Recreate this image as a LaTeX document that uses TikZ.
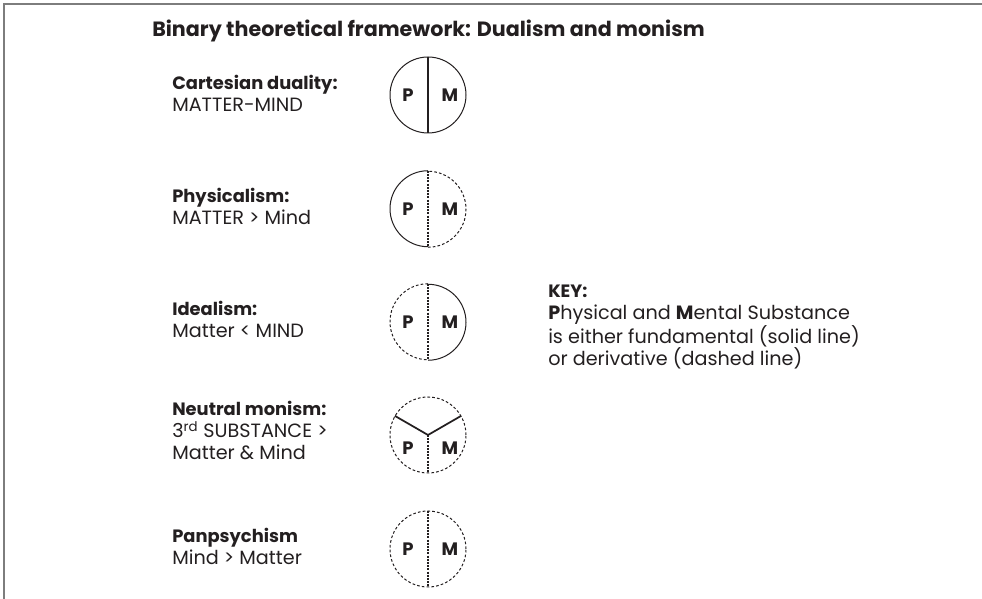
\documentclass[tikz,border=0pt]{standalone}
\usepackage{fontspec}
\setmainfont{Poppins}
\usepackage{tikz}
\usetikzlibrary{positioning, calc}
\definecolor{mydark}{RGB}{35,31,32}
\definecolor{myframe}{RGB}{125,125,125}
\newcommand{\hdr}[1]{{\fontsize{13.4}{16.5}\selectfont\bfseries #1}}
\tikzset{
  ring/.style={circle, draw=none, minimum size=57pt, inner sep=0pt},
  fund/.style={draw=mydark, line width=0.75pt},
  deriv/.style={draw=mydark, line width=0.75pt, dash pattern=on 2pt off 1.6pt},
  divsolid/.style={draw=mydark, line width=0.9pt},
  divdash/.style={draw=mydark, line width=1pt, dash pattern=on 1.5pt off 0.9pt},
  letter/.style={font=\fontsize{13.5}{15}\selectfont\bfseries, text=mydark, inner sep=0pt},
  label/.style={anchor=base west, align=left, inner sep=0pt, text=mydark,
    font=\fontsize{14.4}{16.5}\selectfont},
  title/.style={anchor=base west, inner sep=0pt, text=mydark,
    font=\fontsize{15.5}{17}\selectfont\bfseries}
}
\begin{document}
\begin{tikzpicture}[x=0.75pt, y=0.75pt]
  \useasboundingbox (0,0) rectangle (982,599);
  % frame
  \draw[myframe, line width=1.5pt] (4,0) -- (4,595) -- (982,595);
  \node[title] (head) at (152,562) {Binary theoretical framework: Dualism and monism};

  % labels (anchored at the last baseline)
  \node[label] (lcart) at (172,487) {\hdr{Cartesian duality:}\\MATTER-MIND};
  \node[label] (lphys) at (172,374) {\hdr{Physicalism:}\\MATTER > Mind};
  \node[label] (lideal) at (172,261) {\hdr{Idealism:}\\Matter < MIND};
  \node[label] (lneut) at (172,139) {\hdr{Neutral monism:}\\3\textsuperscript{rd} SUBSTANCE >\\Matter \& Mind};
  \node[label] (lpan) at (172,34) {\hdr{Panpsychism}\\Mind > Matter};

  % circles
  \foreach \nm/\y in {cart/504, phys/390, ideal/277, neut/164, pan/50}
    \node[ring] (\nm) at (428,\y) {};

  \draw[fund] (cart) circle[radius=28.5pt];
  \draw[divsolid] (cart.north) -- (cart.south);

  \draw[fund] (phys.north) arc[start angle=90, end angle=270, radius=28.5pt];
  \draw[deriv] (phys.south) arc[start angle=-90, end angle=90, radius=28.5pt];
  \draw[divdash] (phys.north) -- (phys.south);

  \draw[deriv] (ideal.north) arc[start angle=90, end angle=270, radius=28.5pt];
  \draw[fund] (ideal.south) arc[start angle=-90, end angle=90, radius=28.5pt];
  \draw[divdash] (ideal.north) -- (ideal.south);

  \draw[deriv] (neut) circle[radius=28.5pt];
  \draw[divsolid, line width=1.3pt] (neut.150) -- (neut.center) -- (neut.30);
  \draw[divdash] (neut.center) -- (neut.south);

  \draw[deriv] (pan) circle[radius=28.5pt];
  \draw[divdash] (pan.north) -- (pan.south);

  % letters
  \foreach \nm in {cart, phys, ideal, pan} {
    \node[letter] (\nm P) at ($(\nm)+(-20,0)$) {P};
    \node[letter] (\nm M) at ($(\nm)+(22,0)$) {M};
  }
  \node[letter] (neutP) at ($(neut)+(-20,-13)$) {P};
  \node[letter] (neutM) at ($(neut)+(22,-13)$) {M};

  % key
  \node[label] (key) at (548,233) {\hdr{KEY:}\\\textbf{P}hysical and \textbf{M}ental Substance\\is either fundamental (solid line)\\or derivative (dashed line)};
\end{tikzpicture}
\end{document}
